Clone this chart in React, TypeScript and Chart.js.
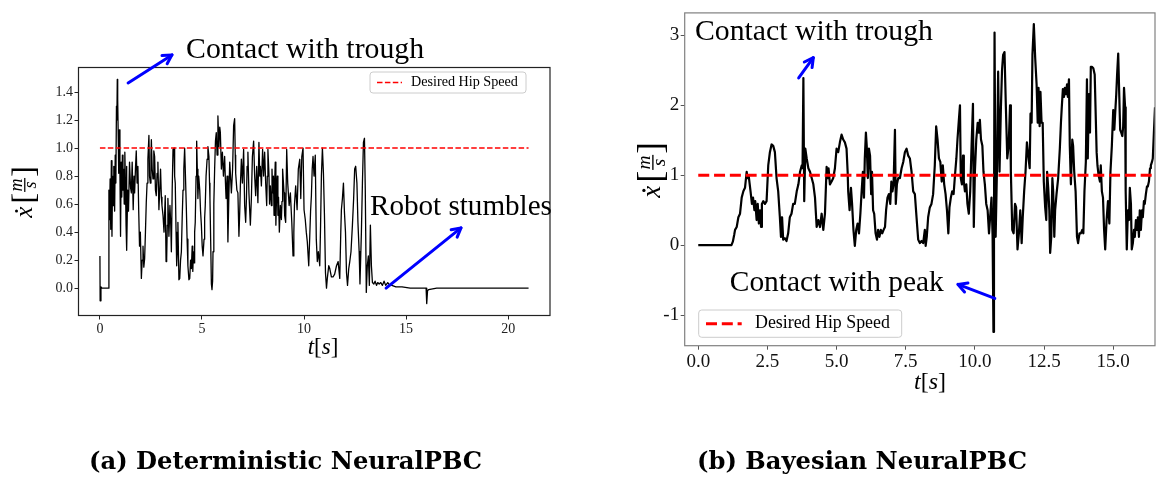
import React, { useEffect, useRef } from "react";
import { Chart, registerables } from "chart.js";

Chart.register(...registerables);

// ---------------- DATA ----------------
// (a) Deterministic NeuralPBC: hip speed over time
const leftTime = [
  0, 0.01, 0.05, 0.1, 0.2, 0.3, 0.42, 0.44, 0.47, 0.5, 0.53, 0.56, 0.59, 0.62, 0.65, 0.68, 0.72, 0.75, 0.78, 0.81, 0.83, 0.85, 0.87, 0.9, 0.92, 0.95, 0.98,
  1.01, 1.04, 1.07, 1.1, 1.13, 1.16, 1.19, 1.22, 1.25, 1.28, 1.3, 1.32, 1.36, 1.4, 1.45, 1.5, 1.54, 1.58, 1.63, 1.67, 1.7, 1.74, 1.78, 1.82, 1.86, 1.9, 1.94, 1.98,
  2.03, 2.07, 2.11, 2.15, 2.19, 2.23, 2.27, 2.31, 2.35, 2.4, 2.43, 2.47, 2.5, 2.52, 2.56, 2.6, 2.64, 2.68, 2.72, 2.76, 2.8, 2.84, 2.89, 2.93, 2.97,
  3.01, 3.04, 3.09, 3.14, 3.2, 3.24, 3.27, 3.3, 3.33, 3.38, 3.43, 3.47, 3.5, 3.54, 3.58, 3.63, 3.66, 3.69, 3.73, 3.76, 3.8, 3.82, 3.87, 3.91, 3.95, 3.99,
  4.03, 4.07, 4.11, 4.15, 4.19, 4.23, 4.27, 4.31, 4.36, 4.4, 4.44, 4.48, 4.52, 4.55, 4.58, 4.61, 4.64, 4.67, 4.71, 4.74, 4.77, 4.8, 4.84, 4.89, 4.93, 4.97,
  5.01, 5.05, 5.1, 5.13, 5.16, 5.2, 5.25, 5.29, 5.34, 5.37, 5.39, 5.43, 5.46, 5.49, 5.52, 5.54, 5.58, 5.62, 5.66, 5.7, 5.74, 5.78, 5.83, 5.87, 5.9, 5.95,
  6.0, 6.05, 6.11, 6.15, 6.18, 6.23, 6.27, 6.32, 6.36, 6.39, 6.44, 6.5, 6.55, 6.6, 6.63, 6.65, 6.71, 6.76, 6.81, 6.85, 6.88, 6.93, 6.98,
  7.04, 7.09, 7.14, 7.18, 7.21, 7.25, 7.3, 7.33, 7.37, 7.42, 7.47, 7.53, 7.58, 7.63, 7.68, 7.74, 7.79, 7.83, 7.86, 7.91, 7.97,
  8.02, 8.07, 8.12, 8.17, 8.2, 8.23, 8.28, 8.31, 8.35, 8.4, 8.43, 8.46, 8.5, 8.53, 8.56, 8.59, 8.62, 8.66, 8.69, 8.72, 8.75, 8.79, 8.84, 8.89, 8.92, 8.95,
  9.02, 9.05, 9.1, 9.15, 9.2, 9.24, 9.27, 9.33, 9.4, 9.46, 9.5, 9.53, 9.59, 9.66, 9.72, 9.79, 9.84, 9.89, 9.95,
  10.0, 10.06, 10.11, 10.16, 10.23, 10.28, 10.32, 10.36, 10.4, 10.44, 10.49, 10.55, 10.6, 10.65, 10.7, 10.77, 10.81, 10.85, 10.9, 10.95,
  11.0, 11.05, 11.1, 11.14, 11.21, 11.26, 11.34, 11.42, 11.5, 11.59, 11.67, 11.75, 11.8, 11.83, 11.88, 11.93, 11.98,
  12.03, 12.08, 12.13, 12.19, 12.24, 12.3, 12.37, 12.43, 12.48, 12.53, 12.59, 12.64, 12.7, 12.74, 12.81, 12.86, 12.91, 12.96,
  13.0, 13.05, 13.1, 13.15, 13.2, 13.25, 13.3, 13.35, 13.42, 13.48, 13.55, 13.61, 13.68, 13.76, 13.84, 13.92, 14.0, 14.1, 14.2, 14.3, 14.5, 14.8, 15.2, 15.9, 15.98, 16.01, 16.05, 16.1, 16.5, 21,
];
const leftSpeed = [
  0.23, -0.09, 0.01, 0, 0, 0, 0, 0.7, 0.49, 0.78, 0.42, 0.91, 0.37, 0.8, 0.59, 0.87, 0.55, 0.95, 0.75, 1.3, 1.2, 1.49, 1.35, 1.05, 0.82, 1.13, 0.83,
  0.37, 0.9, 0.65, 0.95, 0.7, 0.85, 0.6, 0.97, 0.75, 0.45, 0.87, 0.27, 0.7, 0.55, 0.9, 0.72, 0.68, 0.9, 0.56, 0.8, 0.68, 0.85, 0.98, 0.75, 0.87, 0.55, 0.3, 0.4,
  0.07, 0.2, 0.3, 0.15, 0.21, 0.4, 0.61, 0.75, 0.92, 1.09, 0.8, 0.75, 0.95, 1.06, 0.85, 0.78, 0.98, 0.94, 0.7, 0.66, 0.82, 0.9, 0.56, 0.7, 0.85,
  0.65, 0.59, 0.52, 0.4, 0.66, 0.19, 0.21, 0.45, 0.64, 0.37, 0.59, 0.45, 0.26, 0.7, 0.99, 1.0, 0.8, 0.75, 0.4, 0.16, 0.3, 0.47, 0.06, 0.07, 0.2, 0.26,
  0.5, 0.7, 0.85, 1.0, 0.8, 0.59, 0.35, 0.16, 0.06, 0.07, 0.2, 0.14, 0.3, 0.12, 0.26, 0.18, 0.4, 0.47, 0.8, 1.05, 0.85, 0.64, 0.8, 0.7, 0.55, 0.45,
  0.3, 0.23, 0.35, 0.5, 0.59, 0.8, 0.92, 1.01, 0.94, 0.75, 0.64, 0.3, 0.03, -0.01, 0.05, 0.26, 0.6, 0.85, 1.05, 1.11, 0.95, 1.23, 1.01, 1.15, 1.11, 0.85,
  0.97, 0.8, 0.94, 0.75, 0.64, 0.8, 0.33, 0.68, 0.9, 0.82, 0.68, 0.85, 1.16, 1.21, 0.95, 0.82, 0.7, 0.68, 0.37, 0.55, 0.73, 0.92, 0.75,
  0.99, 0.59, 0.47, 0.65, 0.87, 0.97, 0.68, 0.58, 0.45, 0.64, 0.94, 1.05, 0.8, 0.66, 0.87, 0.61, 1.04, 0.8, 0.87, 0.73, 0.99,
  0.8, 0.97, 0.75, 0.59, 0.8, 0.99, 0.82, 0.6, 0.73, 0.59, 0.85, 0.68, 0.8, 0.52, 0.75, 0.9, 0.45, 0.7, 0.8, 0.52, 0.65, 0.4, 0.59, 0.49, 0.62, 0.85,
  0.68, 0.52, 0.47, 0.99, 0.75, 0.66, 0.59, 0.68, 0.47, 0.23, 0.4, 0.59, 0.73, 0.56, 0.85, 0.92, 0.64, 0.94, 1.0,
  0.56, 0.49, 0.4, 0.33, 0.16, 0.37, 0.55, 0.66, 0.85, 0.94, 0.8, 0.95, 0.35, 0.19, 0.26, 0.16, 0.45, 0.8, 1.0, 0.82,
  0.52, 0.11, 0.0, 0.07, 0.16, 0.14, 0.08, 0.08, 0.1, 0.16, 0.19, 0.07, 0.4, 0.56, 0.64, 0.75, 0.54,
  0.4, 0.11, 0.02, 0.14, 0.19, 0.26, 0.45, 0.64, 0.85, 0.87, 0.75, 0.47, 0.26, 0.03, 0.4, 0.75, 1.04, 1.07,
  0.7, -0.03, 0.16, 0.23, 0.02, 0.45, 0.16, 0.04, 0.03, 0.05, 0.02, 0.04, 0.03, 0.04, 0.02, 0.05, 0.02, 0.04, 0.02, 0.02, 0.01, 0.01, 0, 0, 0, -0.11, -0.02, -0.01, 0, 0,
];
const leftDesiredTime = [0, 21];
const leftDesiredSpeed = [1, 1];
const leftXTicks = [0, 5, 10, 15, 20];
const leftXTickLabels = ["0", "5", "10", "15", "20"];
const leftYTicks = [0, 0.2, 0.4, 0.6, 0.8, 1.0, 1.2, 1.4];
const leftYTickLabels = ["0.0", "0.2", "0.4", "0.6", "0.8", "1.0", "1.2", "1.4"];

// (b) Bayesian NeuralPBC: hip speed over time
const rightTime = [
  0, 0.3, 0.6, 0.9, 1.2, 1.25, 1.3, 1.33, 1.39, 1.45, 1.51, 1.57, 1.63, 1.69, 1.75, 1.78, 1.82, 1.89, 1.94, 1.98,
  2.03, 2.06, 2.11, 2.15, 2.19, 2.23, 2.27, 2.3, 2.35, 2.41, 2.47, 2.53, 2.59, 2.65, 2.71, 2.77, 2.83, 2.89, 2.95, 2.99, 3.03, 3.07, 3.13, 3.19, 3.25, 3.31, 3.37, 3.43, 3.49, 3.56, 3.62, 3.68, 3.74, 3.77, 3.8, 3.83, 3.87, 3.92, 3.98,
  4.04, 4.1, 4.16, 4.22, 4.28, 4.34, 4.4, 4.46, 4.52, 4.58, 4.64, 4.68, 4.71, 4.76, 4.82, 4.88, 4.94, 5.0, 5.06, 5.12, 5.18, 5.24, 5.3, 5.36, 5.4, 5.42, 5.47, 5.52, 5.56, 5.61, 5.66, 5.71, 5.76, 5.81, 5.86, 5.9, 5.95, 5.99,
  6.02, 6.06, 6.09, 6.13, 6.17, 6.21, 6.25, 6.28, 6.32, 6.36, 6.41, 6.46, 6.5, 6.55, 6.6, 6.65, 6.7, 6.75, 6.79, 6.84, 6.89, 6.94, 6.98, 7.02, 7.06, 7.11, 7.14, 7.18, 7.23, 7.29, 7.35, 7.41, 7.47, 7.53, 7.59, 7.65, 7.71, 7.77, 7.83, 7.89, 7.95,
  8.01, 8.07, 8.13, 8.19, 8.22, 8.26, 8.31, 8.37, 8.43, 8.49, 8.55, 8.6, 8.65, 8.7, 8.75, 8.8, 8.84, 8.89, 8.94, 8.99, 9.04, 9.08, 9.13, 9.18, 9.23, 9.28, 9.33, 9.37, 9.42, 9.46, 9.49, 9.53, 9.57, 9.6, 9.64, 9.69, 9.73, 9.78, 9.83, 9.88, 9.93, 9.96,
  10.0, 10.05, 10.1, 10.14, 10.18, 10.22, 10.27, 10.31, 10.36, 10.41, 10.46, 10.51, 10.55, 10.6, 10.64, 10.67, 10.69, 10.71, 10.75, 10.8, 10.84, 10.89, 10.94, 10.98, 11.02, 11.07, 11.12, 11.17, 11.22, 11.27, 11.3, 11.35, 11.4, 11.45, 11.49, 11.54, 11.59, 11.64, 11.69, 11.73, 11.78, 11.83, 11.88, 11.93, 11.98,
  12.01, 12.05, 12.08, 12.13, 12.18, 12.23, 12.27, 12.3, 12.34, 12.37, 12.41, 12.45, 12.49, 12.54, 12.58, 12.61, 12.65, 12.69, 12.72, 12.76, 12.8, 12.83, 12.87, 12.9, 12.95, 13.01, 13.07, 13.11, 13.14, 13.18, 13.22, 13.25, 13.29, 13.33, 13.36, 13.4, 13.43, 13.47, 13.52, 13.55, 13.59, 13.64, 13.69, 13.73, 13.78, 13.83, 13.88, 13.92, 13.96,
  14.01, 14.05, 14.08, 14.12, 14.16, 14.19, 14.23, 14.28, 14.33, 14.36, 14.4, 14.43, 14.47, 14.52, 14.55, 14.59, 14.63, 14.67, 14.71, 14.76, 14.81, 14.86, 14.9, 14.95, 15.0, 15.04, 15.07, 15.11, 15.14, 15.18, 15.22, 15.25, 15.29, 15.33, 15.36, 15.39, 15.43, 15.45, 15.49, 15.53, 15.57, 15.6, 15.64, 15.67, 15.71, 15.75, 15.78, 15.82, 15.86, 15.89, 15.93, 15.96, 16.0, 16.04, 16.07, 16.11, 16.14, 16.18, 16.22, 16.25, 16.29, 16.33, 16.36, 16.4, 16.43, 16.47, 16.51, 16.56,
];
const rightSpeed = [
  0, 0, 0, 0, 0, 0.05, 0.15, 0.22, 0.26, 0.4, 0.45, 0.68, 0.77, 0.82, 1.05, 0.96, 1.0, 0.77, 0.59, 0.68,
  0.5, 0.63, 0.36, 0.59, 0.31, 0.5, 0.26, 0.59, 0.63, 0.59, 0.63, 1.14, 1.33, 1.44, 1.42, 1.33, 0.96, 0.77, 0.4, 0.12, 0.4, 0.08, 0.1, 0.06, 0.17, 0.4, 0.45, 0.59, 0.59, 0.77, 0.87, 1.05, 1.14, 1.1, 2.39, 0.63, 1.38, 1.24, 1.1,
  1.05, 0.96, 0.87, 0.68, 0.26, 0.36, 0.26, 0.45, 0.22, 0.45, 1.12, 0.96, 1.1, 0.87, 0.91, 0.96, 1.1, 1.38, 1.33, 1.47, 1.58, 1.51, 1.47, 1.38, 1.05, 0.77, 0.5, 0.82, 0.59, 0.22, -0.01, 0.22, 0.31, 0.17, 0.45, 0.73, 1.05, 0.68,
  1.24, 1.61, 1.42, 0.96, 1.38, 1.28, 0.73, 1.05, 0.5, 0.45, 0.17, 0.08, 0.22, 0.12, 0.22, 0.17, 0.22, 0.26, 0.5, 0.68, 0.73, 0.59, 0.91, 0.77, 0.87, 1.65, 0.59, 0.87, 0.96, 0.96, 1.1, 1.19, 1.33, 1.38, 1.28, 1.24, 1.05, 0.77, 0.73, 0.4, 0.08,
  0.03, 0.06, 0.03, 0.22, -0.01, 0.12, 0.4, 0.54, 0.59, 0.73, 1.14, 1.7, 1.51, 1.24, 1.19, 0.91, 1.14, 0.87, 0.73, 0.5, 0.17, 0.54, 0.68, 0.77, 0.73, 1.0, 1.24, 1.51, 1.79, 2.0, 0.96, 0.87, 1.28, 0.91, 0.77, 0.87, 0.59, 0.45, 0.77, 1.42, 2.02, 0.26,
  1.05, 1.51, 1.75, 1.61, 1.79, 1.51, 1.42, 1.05, 0.87, 0.59, 0.5, 0.17, 0.4, 0.68, 0.12, -1.24, 0.3, 3.04, 0.12, 1.14, 2.48, 1.05, 1.97, 2.5, 2.72, 2.76, 1.97, 1.24, 1.42, 2.0, 1.05, 0.22, 0.17, 0.59, 0.54, -0.06, 0.17, 0.5, 0.03, 0.4, 0.77, 1.05, 1.47, 1.28, 1.1,
  1.88, 1.75, 2.72, 3.16, 2.67, 2.3, 1.75, 2.25, 1.7, 2.19, 1.75, 1.75, 0.91, 0.54, 0.36, 1.05, 0.82, 0.5, -0.11, 0.12, 0.96, 0.77, 0.12, 0.5, 0.73, 0.96, 1.38, 1.75, 1.97, 2.23, 2.12, 2.25, 2.16, 2.3, 2.12, 2.37, 1.42, 0.87, 1.51, 1.42, 1.05, 0.77, 0.12, 0.03, 0.17, 0.17, 0.22, 0.17, 0.77,
  1.19, 2.37, 1.24, 2.16, 1.61, 2.55, 2.55, 2.53, 2.44, 1.97, 1.33, 1.14, 1.0, 0.91, 1.14, 0.77, 0.68, 0.22, -0.06, 0.36, 0.63, 0.31, 1.05, 1.42, 1.93, 1.65, 1.88, 2.16, 2.44, 2.74, 2.12, 1.65, 1.61, 1.56, 1.7, 2.25, 1.97, 0.77, -0.06, 0.5, 0.36, 0.82, 0.59, -0.06, 0.03, 0.22, 0.12, 0.36, 0.22, 0.4, 0.12, 0.5, 0.22, 0.5, 0.4, 0.63, 0.59, 0.73, 0.84, 0.84, 0.91, 1.1, 1.14, 1.19, 1.24, 1.61, 1.97, 2.2,
];
const rightDesiredTime = [0, 16.6];
const rightDesiredSpeed = [1, 1];
const rightXTicks = [0, 2.5, 5, 7.5, 10, 12.5, 15];
const rightXTickLabels = ["0.0", "2.5", "5.0", "7.5", "10.0", "12.5", "15.0"];
const rightYTicks = [-1, 0, 1, 2, 3];
const rightYTickLabels = ["-1", "0", "1", "2", "3"];

const legendLabel = "Desired Hip Speed";
const captionA = "(a) Deterministic NeuralPBC";
const captionB = "(b) Bayesian NeuralPBC";

// ---------------- STYLE / LAYOUT ----------------
const SERIF = '"Liberation Serif", "Times New Roman", serif';
const BOLD_SERIF = '"DejaVu Serif", serif';
const CAPTION_FIT = { text: captionB, width: 330 };

type Note = { text: string; t: number; v: number; width: number };
type Arrow = { t0: number; v0: number; t1: number; v1: number };

const LEFT_SPEC = {
  id: "a",
  offsetX: 0,
  canvasW: 600,
  time: leftTime,
  speed: leftSpeed,
  desiredTime: leftDesiredTime,
  desiredSpeed: leftDesiredSpeed,
  xMin: -1.05, xMax: 22.05, yMin: -0.195, yMax: 1.575,
  xTicks: leftXTicks, xTickLabels: leftXTickLabels,
  yTicks: leftYTicks, yTickLabels: leftYTickLabels,
  tickFont: 14, tickColor: "#222", tickMarkColor: "#222",
  yAxisWidth: 78.5, xAxisHeight: 40, padTop: 67.5, padRight: 50, padBottom: 129.5,
  lineWidth: 1.3, desiredWidth: 1.6, dash: [5.5, 2.4],
  frameColor: "#222", frameWidth: 1.2,
  notes: [
    { text: "Contact with trough", t: 4.22, v: 1.70, width: 238 },
    { text: "Robot stumbles", t: 13.23, v: 0.58, width: 182 },
  ] as Note[],
  arrows: [
    { t0: 1.38, v0: 1.465, t1: 3.53, v1: 1.665 },
    { t0: 14.02, v0: 0.0, t1: 17.69, v1: 0.43 },
  ] as Arrow[],
  legend: { x: 370, y: 72, w: 156, h: 21, s0: 377, s1: 402, sy: 82.5, tx: 411, tw: 107, lw: 1.6, dash: [5.5, 2.4] },
  xLabel: { x: 323, y: 348, size: 23 },
  yLabel: { x: 24, y: 192, size: 25 },
  caption: { text: captionA, x: 89, y: 463 },
};

const RIGHT_SPEC = {
  id: "b",
  offsetX: 600,
  canvasW: 563,
  time: rightTime,
  speed: rightSpeed,
  desiredTime: rightDesiredTime,
  desiredSpeed: rightDesiredSpeed,
  xMin: -0.49, xMax: 16.51, yMin: -1.436, yMax: 3.32,
  xTicks: rightXTicks, xTickLabels: rightXTickLabels,
  yTicks: rightYTicks, yTickLabels: rightYTickLabels,
  tickFont: 19, tickColor: "#111", tickMarkColor: "#555",
  yAxisWidth: 84.7, xAxisHeight: 40, padTop: 3.3, padRight: 8, padBottom: 99.3,
  lineWidth: 2.2, desiredWidth: 3, dash: [11, 4.8],
  frameColor: "#808080", frameWidth: 1.2,
  notes: [
    { text: "Contact with trough", t: -0.12, v: 3.05, width: 238 },
    { text: "Contact with peak", t: 1.14, v: -0.55, width: 214 },
  ] as Note[],
  arrows: [
    { t0: 3.63, v0: 2.39, t1: 4.16, v1: 2.68 },
    { t0: 10.72, v0: -0.76, t1: 9.39, v1: -0.56 },
  ] as Arrow[],
  legend: { x: 698.7, y: 310, w: 203, h: 27.3, s0: 706, s1: 741.7, sy: 323.7, tx: 755, tw: 135, lw: 3, dash: [11, 4.8] },
  xLabel: { x: 930, y: 383, size: 24 },
  yLabel: { x: 652, y: 170, size: 27 },
  caption: { text: captionB, x: 697, y: 463 },
};

function fitSize(ctx: CanvasRenderingContext2D, text: string, width: number, style: string, family: string) {
  ctx.font = `${style} 100px ${family}`;
  const w = ctx.measureText(text).width;
  return (100 * width) / w;
}

function drawRateLabel(ctx: CanvasRenderingContext2D, cx: number, cy: number, S: number) {
  ctx.save();
  ctx.translate(cx, cy);
  ctx.rotate(-Math.PI / 2);
  const fx = `italic ${S}px ${SERIF}`;
  const fb = `${S * 1.3}px ${SERIF}`;
  const ff = `italic ${S * 0.72}px ${SERIF}`;
  ctx.font = fx;
  const wx = ctx.measureText("x").width;
  ctx.font = fb;
  const wb1 = ctx.measureText("[").width;
  const wb2 = ctx.measureText("]").width;
  ctx.font = ff;
  const wf = Math.max(ctx.measureText("m").width, ctx.measureText("s").width) + 3;
  const gap = S * 0.12;
  const total = wx + gap + wb1 + wf + wb2;
  let x = -total / 2;
  const base = S * 0.3;
  ctx.fillStyle = "#000";
  ctx.textBaseline = "alphabetic";
  ctx.textAlign = "left";
  ctx.font = fx;
  ctx.fillText("x", x, base);
  ctx.beginPath();
  ctx.arc(x + wx * 0.62, base - S * 0.6, S * 0.06, 0, Math.PI * 2);
  ctx.fill();
  x += wx + gap;
  ctx.font = fb;
  ctx.fillText("[", x, base + S * 0.08);
  x += wb1;
  const bar = base - S * 0.27;
  ctx.font = ff;
  ctx.textAlign = "center";
  ctx.fillText("m", x + wf / 2, bar - S * 0.1);
  ctx.fillText("s", x + wf / 2, bar + S * 0.45);
  ctx.fillRect(x + 1, bar - 0.6, wf - 2, Math.max(1, S * 0.05));
  x += wf;
  ctx.textAlign = "left";
  ctx.font = fb;
  ctx.fillText("]", x, base + S * 0.08);
  ctx.restore();
}

function drawTimeLabel(ctx: CanvasRenderingContext2D, cx: number, cy: number, S: number) {
  const parts: [string, string][] = [
    ["t", `italic ${S}px ${SERIF}`],
    ["[", `${S}px ${SERIF}`],
    ["s", `italic ${S}px ${SERIF}`],
    ["]", `${S}px ${SERIF}`],
  ];
  let total = 0;
  const widths = parts.map(([t, f]) => {
    ctx.font = f;
    const w = ctx.measureText(t).width;
    total += w;
    return w;
  });
  let x = cx - total / 2;
  ctx.save();
  ctx.fillStyle = "#000";
  ctx.textBaseline = "middle";
  ctx.textAlign = "left";
  parts.forEach(([t, f], i) => {
    ctx.font = f;
    ctx.fillText(t, x, cy);
    x += widths[i];
  });
  ctx.restore();
}

function drawArrow(ctx: CanvasRenderingContext2D, x0: number, y0: number, x1: number, y1: number) {
  const ang = Math.atan2(y1 - y0, x1 - x0);
  const hl = 10;
  const ha = 0.5;
  ctx.save();
  ctx.strokeStyle = "#0000ff";
  ctx.lineWidth = 3;
  ctx.lineCap = "round";
  ctx.lineJoin = "round";
  ctx.beginPath();
  ctx.moveTo(x0, y0);
  ctx.lineTo(x1, y1);
  ctx.stroke();
  ctx.beginPath();
  ctx.moveTo(x1 - hl * Math.cos(ang - ha), y1 - hl * Math.sin(ang - ha));
  ctx.lineTo(x1, y1);
  ctx.lineTo(x1 - hl * Math.cos(ang + ha), y1 - hl * Math.sin(ang + ha));
  ctx.stroke();
  ctx.restore();
}

function decorPlugin(spec: any) {
  return {
    id: "decor-" + spec.id,
    afterDraw(chart: any) {
      const ctx: CanvasRenderingContext2D = chart.ctx;
      const ca = chart.chartArea;
      const xs = chart.scales.x;
      const ys = chart.scales.y;
      const ox = spec.offsetX;
      ctx.save();
      // frame
      ctx.strokeStyle = spec.frameColor;
      ctx.lineWidth = spec.frameWidth;
      ctx.strokeRect(ca.left, ca.top, ca.right - ca.left, ca.bottom - ca.top);
      // annotation texts
      for (const n of spec.notes as Note[]) {
        const size = fitSize(ctx, n.text, n.width, "", SERIF);
        ctx.font = `${size}px ${SERIF}`;
        ctx.fillStyle = "#000";
        ctx.textAlign = "left";
        ctx.textBaseline = "middle";
        ctx.fillText(n.text, xs.getPixelForValue(n.t), ys.getPixelForValue(n.v));
      }
      // arrows
      for (const a of spec.arrows as Arrow[]) {
        drawArrow(ctx, xs.getPixelForValue(a.t0), ys.getPixelForValue(a.v0), xs.getPixelForValue(a.t1), ys.getPixelForValue(a.v1));
      }
      // legend
      const L = spec.legend;
      ctx.beginPath();
      ctx.roundRect(L.x - ox, L.y, L.w, L.h, 3);
      ctx.fillStyle = "rgba(255,255,255,0.85)";
      ctx.fill();
      ctx.strokeStyle = "#cccccc";
      ctx.lineWidth = 1;
      ctx.stroke();
      ctx.save();
      ctx.strokeStyle = "#ff0000";
      ctx.lineWidth = L.lw;
      ctx.setLineDash(L.dash);
      ctx.beginPath();
      ctx.moveTo(L.s0 - ox, L.sy);
      ctx.lineTo(L.s1 - ox, L.sy);
      ctx.stroke();
      ctx.restore();
      const ls = fitSize(ctx, legendLabel, L.tw, "", SERIF);
      ctx.font = `${ls}px ${SERIF}`;
      ctx.fillStyle = "#000";
      ctx.textAlign = "left";
      ctx.textBaseline = "middle";
      ctx.fillText(legendLabel, L.tx - ox, L.sy);
      // axis labels
      drawTimeLabel(ctx, spec.xLabel.x - ox, spec.xLabel.y, spec.xLabel.size);
      drawRateLabel(ctx, spec.yLabel.x - ox, spec.yLabel.y, spec.yLabel.size);
      // caption
      const cs = fitSize(ctx, CAPTION_FIT.text, CAPTION_FIT.width, "bold", BOLD_SERIF);
      ctx.font = `bold ${cs}px ${BOLD_SERIF}`;
      ctx.fillStyle = "#000";
      ctx.textAlign = "left";
      ctx.textBaseline = "middle";
      ctx.fillText(spec.caption.text, spec.caption.x - ox, spec.caption.y);
      ctx.restore();
    },
  };
}

function buildChart(canvas: HTMLCanvasElement, spec: any) {
  const main = spec.time
    .map((t: number, i: number) => ({ x: t, y: spec.speed[i] }))
    .filter((p: any) => p.y !== undefined);
  const desired = spec.desiredTime.map((t: number, i: number) => ({ x: t, y: spec.desiredSpeed[i] }));
  const tickFont = { family: SERIF, size: spec.tickFont };
  return new Chart(canvas, {
    type: "scatter",
    data: {
      datasets: [
        {
          label: legendLabel,
          data: desired,
          showLine: true,
          borderColor: "#ff0000",
          borderWidth: spec.desiredWidth,
          borderDash: spec.dash,
          pointRadius: 0,
          fill: false,
        },
        {
          label: "hip speed",
          data: main,
          showLine: true,
          borderColor: "#000000",
          borderWidth: spec.lineWidth,
          borderJoinStyle: "round",
          pointRadius: 0,
          fill: false,
          tension: 0,
        },
      ],
    },
    options: {
      responsive: false,
      maintainAspectRatio: false,
      animation: false,
      devicePixelRatio: 1,
      layout: { padding: { left: 0, top: spec.padTop, right: spec.padRight, bottom: spec.padBottom } },
      plugins: { legend: { display: false }, tooltip: { enabled: false } },
      scales: {
        x: {
          type: "linear",
          min: spec.xMin,
          max: spec.xMax,
          afterBuildTicks: (s: any) => {
            s.ticks = spec.xTicks.map((v: number) => ({ value: v }));
          },
          afterFit: (s: any) => {
            s.height = spec.xAxisHeight;
          },
          ticks: {
            callback: (_v: any, i: number) => spec.xTickLabels[i],
            font: tickFont,
            color: spec.tickColor,
            padding: 1,
            autoSkip: false,
            maxRotation: 0,
          },
          grid: { display: true, drawOnChartArea: false, drawTicks: true, tickLength: 4, color: spec.tickMarkColor },
          border: { display: false },
        },
        y: {
          type: "linear",
          min: spec.yMin,
          max: spec.yMax,
          afterBuildTicks: (s: any) => {
            s.ticks = spec.yTicks.map((v: number) => ({ value: v }));
          },
          afterFit: (s: any) => {
            s.width = spec.yAxisWidth;
          },
          ticks: {
            callback: (_v: any, i: number) => spec.yTickLabels[i],
            font: tickFont,
            color: spec.tickColor,
            padding: 1.5,
            autoSkip: false,
          },
          grid: { display: true, drawOnChartArea: false, drawTicks: true, tickLength: 4, color: spec.tickMarkColor },
          border: { display: false },
        },
      },
    },
    plugins: [decorPlugin(spec)],
  } as any);
}

export default function App() {
  const leftRef = useRef<HTMLCanvasElement>(null);
  const rightRef = useRef<HTMLCanvasElement>(null);
  useEffect(() => {
    const a = buildChart(leftRef.current as HTMLCanvasElement, LEFT_SPEC);
    const b = buildChart(rightRef.current as HTMLCanvasElement, RIGHT_SPEC);
    return () => {
      a.destroy();
      b.destroy();
    };
  }, []);
  return (
    <div style={{ position: "fixed", left: 0, top: 0, width: 1163, height: 485, background: "#fff", overflow: "hidden" }}>
      <canvas ref={leftRef} width={600} height={485} style={{ position: "absolute", left: 0, top: 0, width: 600, height: 485 }} />
      <canvas ref={rightRef} width={563} height={485} style={{ position: "absolute", left: 600, top: 0, width: 563, height: 485 }} />
    </div>
  );
}
